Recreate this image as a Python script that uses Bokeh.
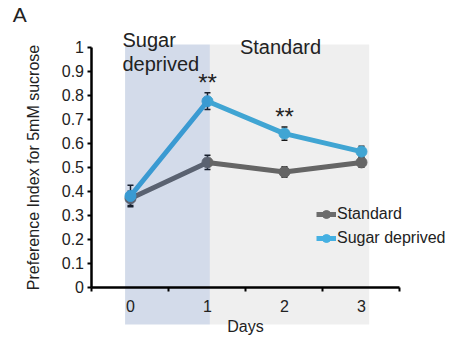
from bokeh.plotting import figure
from bokeh.models import ColumnDataSource, Range1d, FixedTicker, Whisker, TeeHead
from bokeh.embed import file_html
from bokeh.resources import INLINE
from bokeh.core.properties import value

# ---- data ----
days = [0, 1, 2, 3]
standard_mean = [0.37, 0.52, 0.48, 0.52]
standard_err = [0.03, 0.03, 0.022, 0.02]
sugar_mean = [0.38, 0.775, 0.64, 0.565]
sugar_err = [0.045, 0.035, 0.028, 0.022]
sig_days = [1, 2]
sig_labels = ["**", "**"]
phase_start = [-0.07, 1.03]
phase_end = [1.03, 3.1]
y_ticks = [0, 0.1, 0.2, 0.3, 0.4, 0.5, 0.6, 0.7, 0.8, 0.9, 1]
x_ticks = [0, 1, 2, 3]
x_tick_marks = [-0.5, 0.5, 1.5, 2.5, 3.5]

FONT = "Liberation Sans"
TXT = "#222222"
BLUE = "#45b0e2"
GRAY = "#6c6c6c"

p = figure(width=450, height=337, x_range=Range1d(-1.688, 4.156), y_range=Range1d(-0.2096, 1.1946),
           output_backend="svg", toolbar_location=None, title=None,
           min_border_left=0, min_border_right=0, min_border_top=0, min_border_bottom=0)
p.outline_line_color = None
p.grid.visible = False
p.background_fill_color = "white"

# lines + markers
p.line(days, standard_mean, color=GRAY, line_width=5, legend_label="Standard")
p.scatter(days, standard_mean, size=11, color=GRAY, legend_label="Standard")
p.line(days, sugar_mean, color=BLUE, line_width=5, legend_label="Sugar deprived")
p.scatter(days, sugar_mean, size=11, color=BLUE, legend_label="Sugar deprived")

# phase shading (semi-transparent, over the lines)
p.quad(left=phase_start, right=phase_end, bottom=-0.155, top=1.011,
       fill_color=["#0a3a8c", "#000000"], fill_alpha=[0.18, 0.063], line_color=None)

# error bars
for mean, err in ((standard_mean, standard_err), (sugar_mean, sugar_err)):
    src = ColumnDataSource(dict(days=days,
                                upper=[m + e for m, e in zip(mean, err)],
                                lower=[m - e for m, e in zip(mean, err)]))
    w = Whisker(source=src, base="days", upper="upper", lower="lower",
                line_color="#1a1a1a", line_width=1.5,
                upper_head=TeeHead(size=6, line_color="#1a1a1a", line_width=1.5),
                lower_head=TeeHead(size=6, line_color="#1a1a1a", line_width=1.5))
    p.add_layout(w)

# significance stars
sig_y = [sugar_mean[d] + sugar_err[d] + 0.045 for d in sig_days]
p.text(x=sig_days, y=sig_y, text=sig_labels, text_align="center", text_baseline="middle",
       text_font=value(FONT), text_font_size="24px", text_color=TXT)

# phase labels
p.text(x=[-0.104], y=[1.074], text=["Sugar\ndeprived"], text_align="left", text_baseline="top",
       text_font=value(FONT), text_font_size="20px", text_color=TXT, text_line_height=1.08)
p.text(x=[1.948], y=[1.047], text=["Standard"], text_align="center", text_baseline="top",
       text_font=value(FONT), text_font_size="20px", text_color=TXT)

# panel letter
p.text(x=[-1.53], y=[1.185], text=["A"], text_align="left", text_baseline="top",
       text_font=value(FONT), text_font_size="21px", text_color=TXT)

# x axis
xa = p.xaxis[0]
xa.fixed_location = 0
xa.bounds = (-0.5, 3.5)
xa.ticker = FixedTicker(ticks=x_ticks, minor_ticks=x_tick_marks)
xa.major_tick_out = 0
xa.major_tick_in = 0
xa.minor_tick_out = 4
xa.minor_tick_in = 0
xa.minor_tick_line_color = "black"
xa.minor_tick_line_width = 2
xa.axis_line_width = 2.5
xa.axis_line_color = "black"
xa.major_label_standoff = 9
xa.major_label_text_font = FONT
xa.major_label_text_font_size = "16px"
xa.major_label_text_color = TXT
xa.axis_label = "Days"
xa.axis_label_text_font = FONT
xa.axis_label_text_font_size = "16px"
xa.axis_label_text_font_style = "normal"
xa.axis_label_text_color = TXT
xa.axis_label_standoff = 2

# y axis
ya = p.yaxis[0]
ya.fixed_location = -0.5
ya.bounds = (0, 1)
ya.ticker = FixedTicker(ticks=y_ticks, minor_ticks=[])
ya.major_label_overrides = {0: "0", 1: "1"}
ya.major_tick_out = 4
ya.major_tick_in = 0
ya.major_tick_line_width = 2
ya.axis_line_width = 2.5
ya.axis_line_color = "black"
ya.major_label_standoff = 4
ya.major_label_text_font = FONT
ya.major_label_text_font_size = "16px"
ya.major_label_text_color = TXT
ya.axis_label = "Preference Index for 5mM sucrose"
ya.axis_label_text_font = FONT
ya.axis_label_text_font_size = "16px"
ya.axis_label_text_font_style = "normal"
ya.axis_label_text_color = TXT
ya.axis_label_standoff = 16

# legend
lg = p.legend[0]
lg.location = (316, 89)
lg.padding = 0
lg.margin = 0
lg.spacing = 4
lg.glyph_width = 20
lg.glyph_height = 20
lg.label_height = 20
lg.label_standoff = 1
lg.label_text_font = FONT
lg.label_text_font_size = "16px"
lg.label_text_color = TXT
lg.background_fill_alpha = 0
lg.border_line_alpha = 0

open("out.html", "w").write(file_html(p, INLINE))
